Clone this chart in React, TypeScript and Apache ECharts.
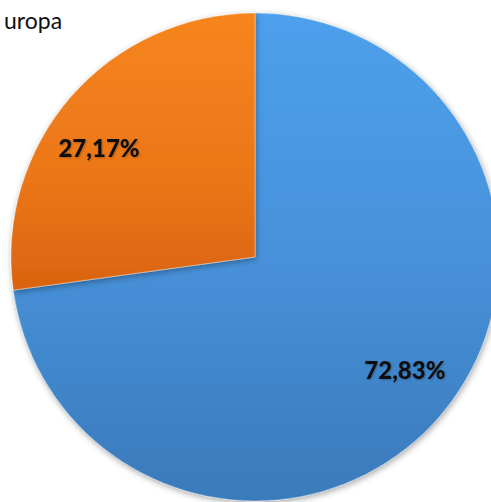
import React, { useEffect, useRef } from "react";
import * as echarts from "echarts";

const titleText = "uropa";
const categories = ["Blau", "Orange"];
const values = [72.83, 27.17];
const labels = ["72,83%", "27,17%"];

export default function App() {
  const ref = useRef<HTMLDivElement>(null);
  useEffect(() => {
    document.body.style.margin = "0";
    const chart = echarts.init(ref.current!, null, { renderer: "svg" });
    const blue = new echarts.graphic.LinearGradient(0, 0, 0, 1, [
      { offset: 0, color: "#4ea0ec" },
      { offset: 0.5, color: "#4791da" },
      { offset: 1, color: "#3a7aba" },
    ]);
    const orange = new echarts.graphic.LinearGradient(0, 0, 0, 1, [
      { offset: 0, color: "#f6851f" },
      { offset: 0.6, color: "#eb7618" },
      { offset: 1, color: "#d96310" },
    ]);
    const fills = [blue, orange];
    const center = [255, 257];
    chart.setOption({
      animation: false,
      title: {
        text: titleText,
        left: -1,
        top: 3,
        textStyle: { fontFamily: "Lato", fontWeight: "normal", fontSize: 23, color: "#111" },
      },
      series: [
        {
          type: "pie",
          center,
          radius: [0, 244],
          startAngle: 90,
          clockwise: true,
          silent: true,
          label: { show: false },
          labelLine: { show: false },
          itemStyle: {
            borderColor: "rgba(255,255,255,0.35)",
            borderWidth: 1,
            shadowBlur: 6,
            shadowColor: "rgba(0,0,0,0.35)",
            shadowOffsetX: 1,
            shadowOffsetY: 2,
          },
          data: categories.map((c, i) => ({
            name: c,
            value: values[i],
            itemStyle: { color: fills[i] },
          })),
        },
        {
          type: "pie",
          center,
          radius: [132, 244],
          startAngle: 90,
          clockwise: true,
          silent: true,
          itemStyle: { color: "rgba(0,0,0,0)" },
          labelLine: { show: false },
          label: {
            show: true,
            position: "inside",
            fontFamily: "Lato",
            fontWeight: 900,
            fontSize: 24,
            color: "#111",
            textShadowColor: "rgba(0,0,0,0.25)",
            textShadowBlur: 2,
            textShadowOffsetX: 1,
            textShadowOffsetY: 1,
            formatter: (p: any) => labels[p.dataIndex],
          },
          data: categories.map((c, i) => ({
            name: c,
            value: values[i],
            label: i === 1 ? { offset: [-12, 16] } : { offset: [6, -13] },
          })),
        },
      ],
    });
    return () => chart.dispose();
  }, []);
  return <div ref={ref} style={{ width: 491, height: 502 }} />;
}
